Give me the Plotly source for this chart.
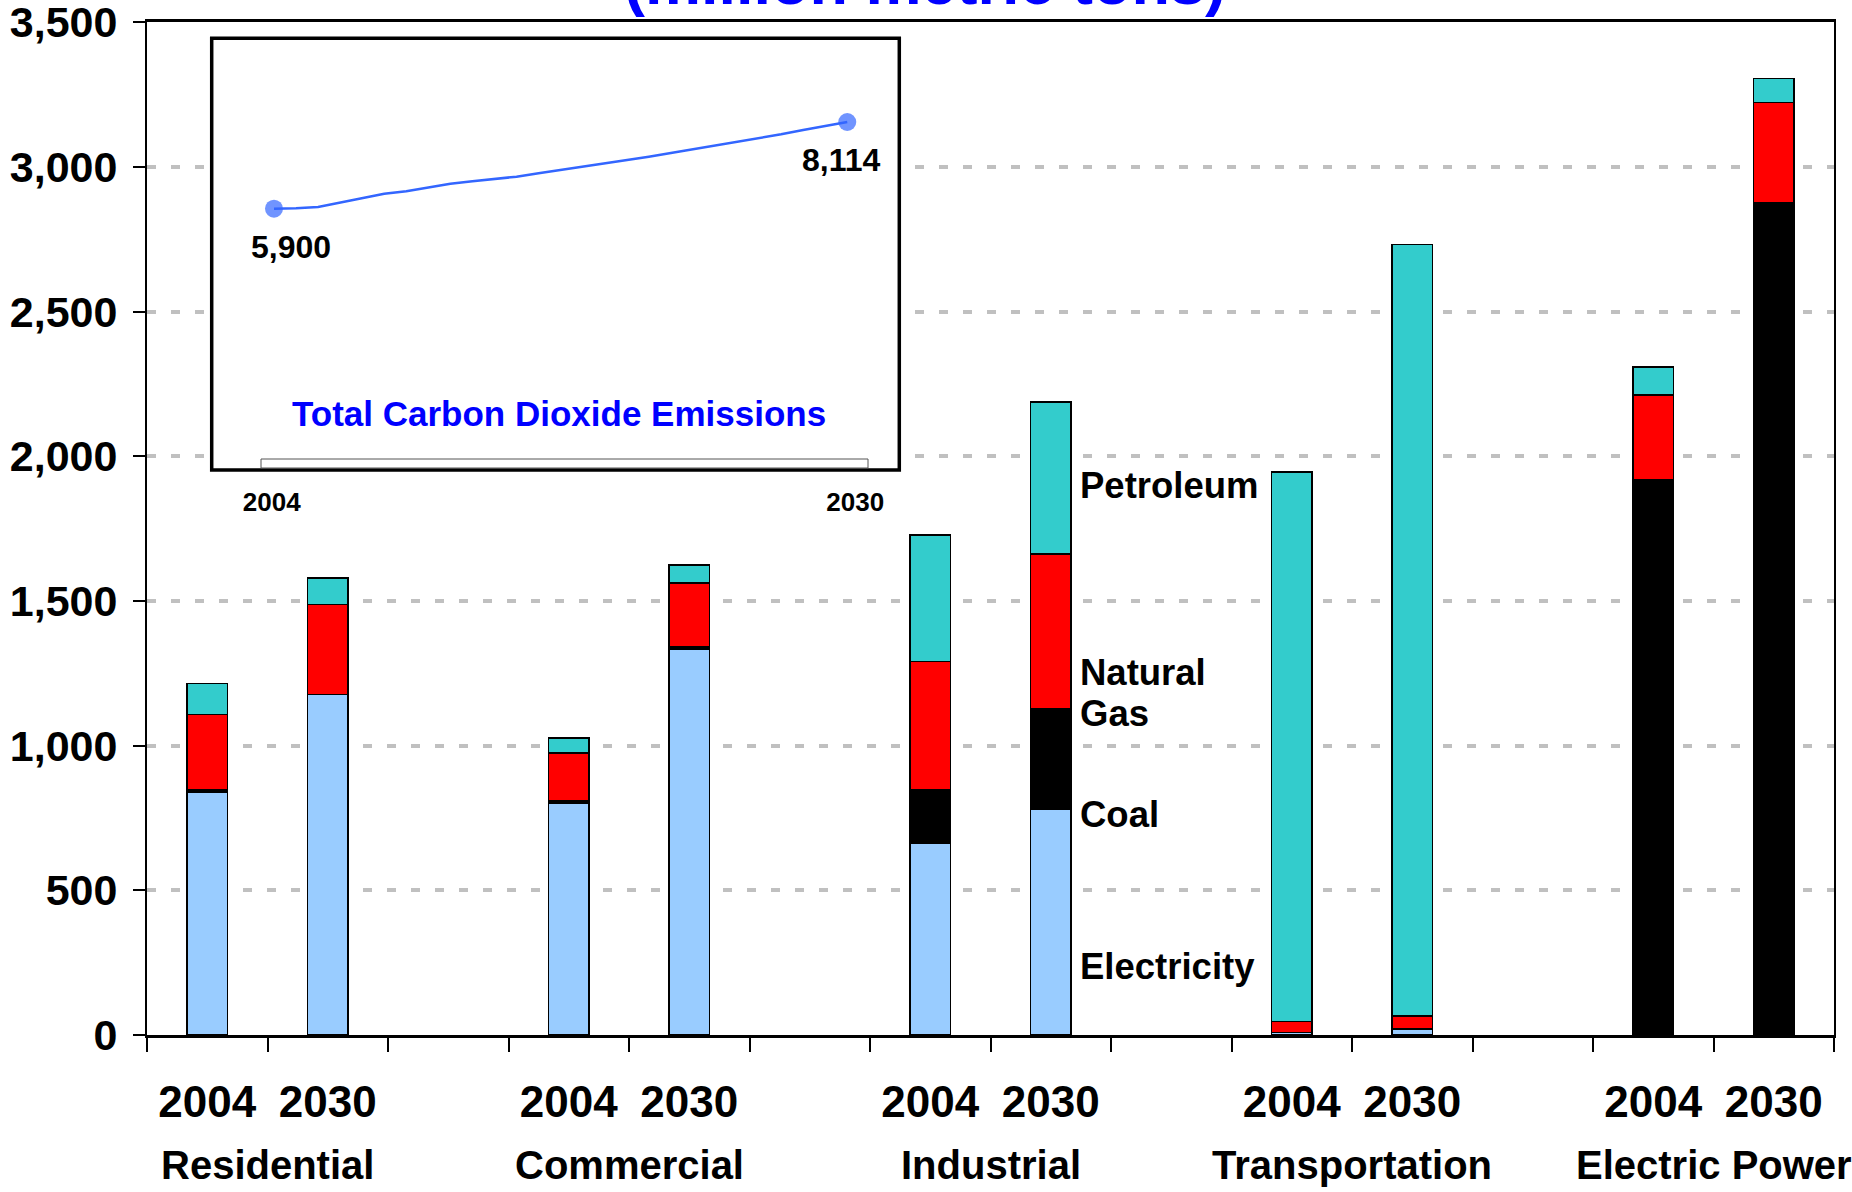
import plotly.graph_objects as go

# ---------------- data ----------------
sectors = ["Residential", "Commercial", "Industrial", "Transportation", "Electric Power"]
years = ["2004", "2030"]

# order: Res04, Res30, Com04, Com30, Ind04, Ind30, Tra04, Tra30, EP04, EP30
electricity = [839, 1176, 801, 1333, 661, 781, 8, 20, 0, 0]
coal = [8, 1, 8, 9, 188, 348, 0, 0, 1917, 2876]
natural_gas = [261, 311, 165, 220, 441, 533, 38, 45, 294, 346]
petroleum = [107, 91, 52, 62, 438, 526, 1900, 2667, 98, 83]

series_names = ["Electricity", "Coal", "Natural Gas", "Petroleum"]
series_colors = ["#99CCFF", "#000000", "#FF0000", "#33CCCC"]

y_ticks = [0, 500, 1000, 1500, 2000, 2500, 3000, 3500]

total_years = [2004, 2005, 2006, 2007, 2008, 2009, 2010, 2011, 2012, 2013, 2014,
               2015, 2016, 2017, 2018, 2019, 2020, 2021, 2022, 2023, 2024, 2025,
               2026, 2027, 2028, 2029, 2030]
total_emissions = [5900, 5910, 5943, 6051, 6163, 6283, 6344, 6439, 6539, 6600, 6656,
                   6717, 6803, 6887, 6972, 7049, 7136, 7229, 7323, 7417, 7508, 7605,
                   7704, 7801, 7910, 8017, 8114]

# ---------------- layout geometry ----------------
W, H = 1852, 1192
ML, MR, MT, MB = 147, 18, 22, 157
PW = W - ML - MR
PH = H - MT - MB


def pxx(px):
    return (px - ML) / PW


def pxy(py):
    return (H - MB - py) / PH


FONT = "Liberation Sans, Arial, sans-serif"

# slot positions: 3 slots per sector (2 bars + 1 gap)
positions = [s * 3 + k for s in range(len(sectors)) for k in range(len(years))]
ticktext = [y for _ in sectors for y in years]

fig = go.Figure()
for name, vals, color in zip(series_names, [electricity, coal, natural_gas, petroleum], series_colors):
    fig.add_trace(go.Bar(
        x=positions, y=vals, name=name, width=0.335,
        marker=dict(color=color, line=dict(color="black", width=1.5)),
        showlegend=False, hoverinfo="skip",
    ))

# inset line
n = len(total_years)
fig.add_trace(go.Scatter(
    x=total_years, y=total_emissions, xaxis="x2", yaxis="y2",
    mode="lines+markers",
    line=dict(color="#3366FF", width=2.5),
    marker=dict(size=[18] + [0] * (n - 2) + [18], color="#3366FF", line=dict(width=0)),
    showlegend=False, hoverinfo="skip",
))

# inset ranges
X2_RANGE = [2001.175, 2032.36]
Y2_RANGE = [-773.6, 10251.7]
box_x0, box_x1, box_y0, box_y1 = 211.7, 899.3, 38.3, 470

annotations = []
# group labels
for i, s in enumerate(sectors):
    annotations.append(dict(
        text=s, x=i * 3 + 0.5, xref="x", y=pxy(1164.5), yref="paper",
        xanchor="center", yanchor="middle", showarrow=False,
        font=dict(family=FONT, size=40, color="black", weight="bold"),
    ))

# series labels (right of Industrial 2030)
lab_x = 7.225
for text, yv in [("Petroleum", 1900), ("Natural", 1252), ("Gas", 1112), ("Coal", 761), ("Electricity", 236)]:
    annotations.append(dict(
        text=text, x=lab_x, xref="x", y=yv, yref="y",
        xanchor="left", yanchor="middle", showarrow=False,
        font=dict(family=FONT, size=36.5, color="black", weight="bold"),
    ))

# inset endpoint labels
annotations.append(dict(
    text=f"{total_emissions[0]:,}", x=total_years[0], y=total_emissions[0], xref="x2", yref="y2",
    xshift=17, yshift=-38, showarrow=False, xanchor="center", yanchor="middle",
    font=dict(family=FONT, size=32, color="black", weight="bold"),
))
annotations.append(dict(
    text=f"{total_emissions[-1]:,}", x=total_years[-1], y=total_emissions[-1], xref="x2", yref="y2",
    xshift=-6, yshift=-38, showarrow=False, xanchor="center", yanchor="middle",
    font=dict(family=FONT, size=32, color="black", weight="bold"),
))
annotations.append(dict(
    text="Total Carbon Dioxide Emissions", x=pxx(558.7), y=pxy(413.3), xref="paper", yref="paper",
    showarrow=False, xanchor="center", yanchor="middle",
    font=dict(family=FONT, size=35, color="#0000FF", weight="bold"),
))
# title (cut off at top, as in the original)
annotations.append(dict(
    text="(million metric tons)", x=pxx(925), y=pxy(-18), xref="paper", yref="paper",
    showarrow=False, xanchor="center", yanchor="middle",
    font=dict(family=FONT, size=63, color="#0000FF", weight="bold"),
))

shapes = [
    # white background of inset (in inset subplot layer)
    dict(type="rect", xref="x2", yref="y2", x0=X2_RANGE[0], x1=X2_RANGE[1], y0=Y2_RANGE[0], y1=Y2_RANGE[1],
         fillcolor="white", line=dict(width=0), layer="below"),
    # inset border
    dict(type="rect", xref="paper", yref="paper", x0=pxx(box_x0), x1=pxx(box_x1), y0=pxy(box_y1), y1=pxy(box_y0),
         line=dict(color="black", width=3.5), fillcolor="rgba(0,0,0,0)", layer="above"),
    # thin inset axis box
    dict(type="rect", xref="paper", yref="paper", x0=pxx(261), x1=pxx(868), y0=pxy(468), y1=pxy(459),
         line=dict(color="#555555", width=1), fillcolor="rgba(0,0,0,0)", layer="above"),
]

fig.update_layout(
    width=W, height=H,
    margin=dict(l=ML, r=MR, t=MT, b=MB, pad=0, autoexpand=False),
    paper_bgcolor="white", plot_bgcolor="white",
    barmode="stack",
    showlegend=False,
    annotations=annotations,
    shapes=shapes,
    xaxis=dict(
        range=[-0.5, 13.5], tickmode="array", tickvals=positions, ticktext=ticktext,
        ticks="", ticklabelstandoff=26, automargin=False,
        tickfont=dict(family=FONT, size=44, color="black", weight="bold"),
        showline=True, linecolor="black", linewidth=2.5, mirror=True,
        showgrid=False, zeroline=False,
        minor=dict(tick0=-0.5, dtick=1, ticks="outside", ticklen=14, tickwidth=2,
                   tickcolor="black", showgrid=False),
    ),
    yaxis=dict(
        range=[0, 3500.35], tickmode="array", tickvals=y_ticks, tickformat=",",
        ticks="outside", ticklen=12, tickwidth=2, tickcolor="black",
        ticklabelstandoff=7, ticklabeloverflow="allow", automargin=False,
        tickfont=dict(family=FONT, size=43, color="black", weight="bold"),
        showline=True, linecolor="black", linewidth=2, mirror=True,
        showgrid=True, gridcolor="#C0C0C0", gridwidth=4, griddash="9px,15px",
        zeroline=False,
    ),
    xaxis2=dict(
        domain=[pxx(box_x0), pxx(box_x1)], range=X2_RANGE, anchor="y2",
        tickmode="array", tickvals=[2003.9, 2030.36], ticktext=["2004", "2030"],
        ticks="outside", ticklen=9, tickcolor="rgba(0,0,0,0)", automargin=False,
        tickfont=dict(family=FONT, size=26, color="black", weight="bold"),
        showline=False, showgrid=False, zeroline=False,
    ),
    yaxis2=dict(
        domain=[pxy(box_y1), pxy(box_y0)], range=Y2_RANGE, anchor="x2", automargin=False,
        showticklabels=False, ticks="", showline=False, showgrid=False, zeroline=False,
    ),
)

fig.write_html("out.html")
